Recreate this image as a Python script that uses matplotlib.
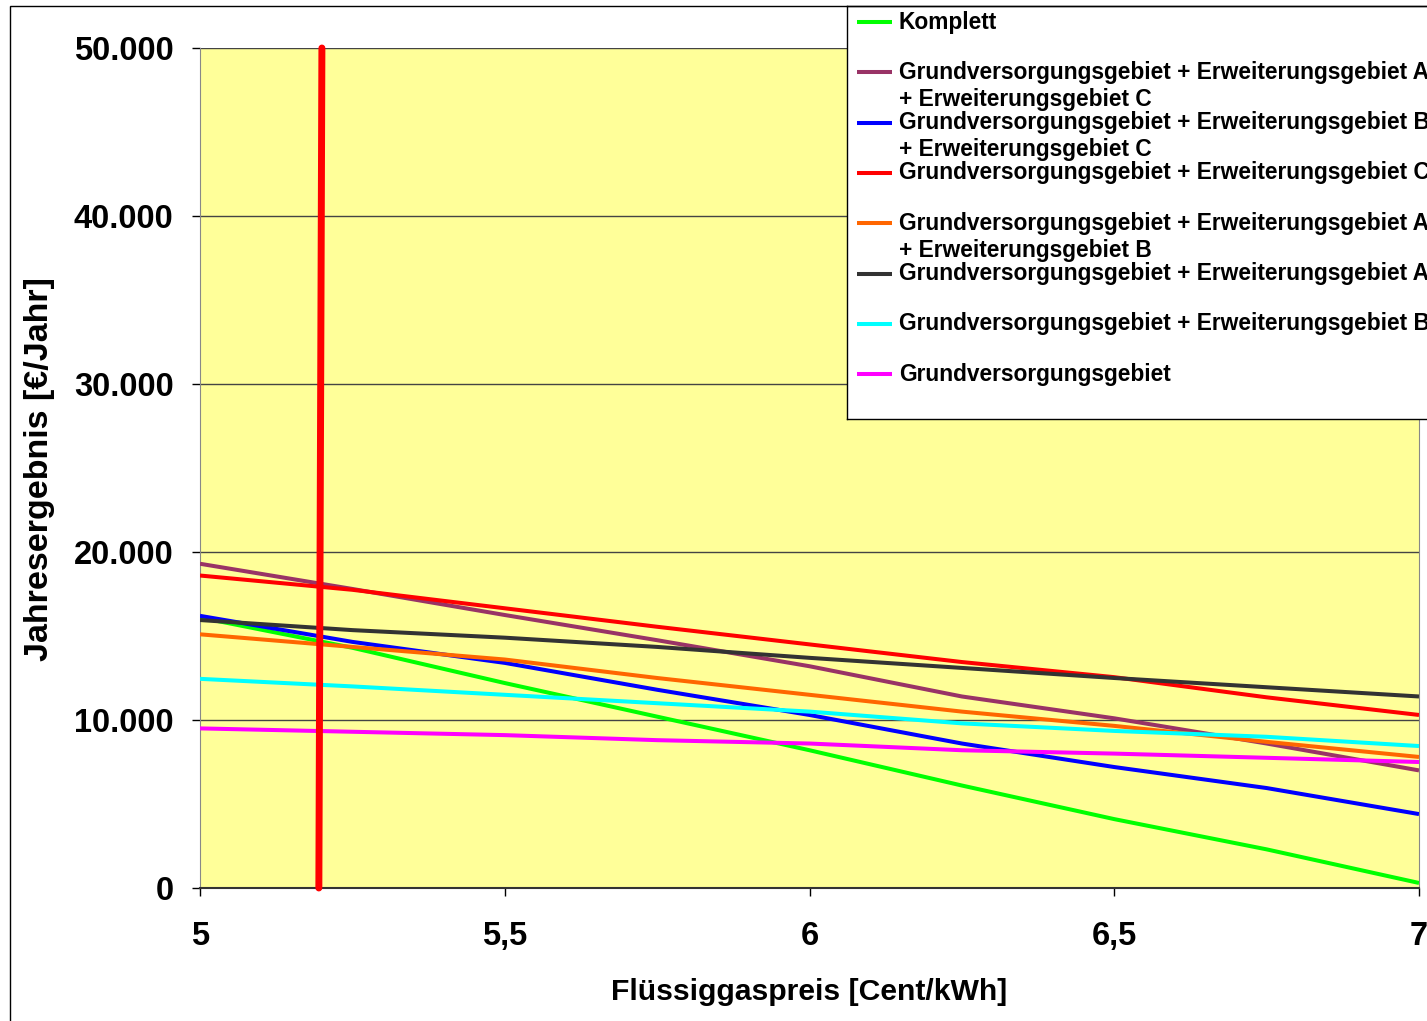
import matplotlib
matplotlib.use("Agg")
import matplotlib.pyplot as plt
from matplotlib.patches import Rectangle
from matplotlib.ticker import FuncFormatter, MultipleLocator

# gas price [Cent/kWh]
price = [5.0, 5.25, 5.5, 5.75, 6.0, 6.25, 6.5, 6.75, 7.0]

# annual result [EUR/year]
komplett = [16100, 14300, 12200, 10200, 8200, 6100, 4100, 2300, 300]
grund_a_c = [19300, 17800, 16250, 14750, 13200, 11400, 10100, 8600, 7000]
grund_b_c = [16200, 14650, 13400, 11800, 10300, 8600, 7200, 5950, 4400]
grund_c = [18600, 17750, 16650, 15550, 14500, 13450, 12550, 11350, 10300]
grund_a_b = [15100, 14350, 13600, 12500, 11500, 10500, 9650, 8700, 7800]
grund_a = [15950, 15350, 14900, 14350, 13700, 13100, 12500, 11950, 11400]
grund_b = [12450, 12000, 11500, 11000, 10500, 9800, 9350, 9000, 8450]
grund = [9500, 9300, 9100, 8800, 8600, 8200, 8000, 7750, 7500]

labels = [
    "Komplett",
    "Grundversorgungsgebiet + Erweiterungsgebiet A\n+ Erweiterungsgebiet C",
    "Grundversorgungsgebiet + Erweiterungsgebiet B\n+ Erweiterungsgebiet C",
    "Grundversorgungsgebiet + Erweiterungsgebiet C",
    "Grundversorgungsgebiet + Erweiterungsgebiet A\n+ Erweiterungsgebiet B",
    "Grundversorgungsgebiet + Erweiterungsgebiet A",
    "Grundversorgungsgebiet + Erweiterungsgebiet B",
    "Grundversorgungsgebiet",
]
series = [komplett, grund_a_c, grund_b_c, grund_c, grund_a_b, grund_a, grund_b, grund]
colors = ["#00FF00", "#993366", "#0000FF", "#FF0000", "#FF6600", "#333333", "#00FFFF", "#FF00FF"]

# current price marker
marker_x = [5.2, 5.195]
marker_y = [50000, 0]

W, H = 1427, 1021
plt.rcParams["font.family"] = ["Liberation Sans", "DejaVu Sans"]
plt.rcParams["font.weight"] = "bold"

fig = plt.figure(figsize=(W / 100, H / 100), dpi=100)

# outer chart frame
fig.patches.append(Rectangle((10 / W, -0.1), 1.2, 1 - 6 / H + 0.1, transform=fig.transFigure,
                             fill=False, edgecolor="black", linewidth=1.0))

ax = fig.add_axes([200 / W, (H - 888) / H, 1219 / W, 840 / H])
ax.set_facecolor("#FFFF99")

for values, color in zip(series, colors):
    ax.plot(price, values, color=color, linewidth=2.9, solid_capstyle="butt", zorder=3)

ax.plot(marker_x, marker_y, color="#FF0000", linewidth=5.0, solid_capstyle="round", zorder=5, clip_on=False)

ax.set_xlim(5, 7)
ax.set_ylim(0, 50000)
ax.xaxis.set_major_locator(MultipleLocator(0.5))
ax.yaxis.set_major_locator(MultipleLocator(10000))
ax.xaxis.set_major_formatter(FuncFormatter(lambda v, p: ("%g" % v).replace(".", ",")))
ax.yaxis.set_major_formatter(FuncFormatter(lambda v, p: "{:,.0f}".format(v).replace(",", ".")))
ax.grid(axis="y", color="#444444", linewidth=1.0, zorder=1)
ax.set_axisbelow(True)

ax.tick_params(axis="x", direction="out", length=6, width=1, pad=18, labelsize=23.5)
ax.tick_params(axis="y", direction="out", length=6, width=1, pad=13, labelsize=23.5)
for label in ax.get_xticklabels() + ax.get_yticklabels():
    label.set_fontweight("bold")

for side in ["top", "right", "left"]:
    ax.spines[side].set_color("#888888")
ax.spines["top"].set_visible(False)
ax.spines["bottom"].set_color("#333333")
ax.spines["bottom"].set_linewidth(1.5)

fig.text(809 / W, 1 - 992 / H, "Flüssiggaspreis [Cent/kWh]", ha="center", va="center",
         fontsize=21.7, fontweight="bold")
fig.text(40 / W, 1 - 469 / H, "Jahresergebnis [€/Jahr]", ha="center", va="center",
         rotation=90, fontsize=24.5, fontweight="bold")

# legend box, cut off at the right edge like the original
leg = fig.add_axes([847 / W, (H - 419) / H, 700 / W, 413 / H])
leg.set_xlim(847, 1547)
leg.set_ylim(419, 6)
leg.set_facecolor("white")
leg.set_xticks([])
leg.set_yticks([])
for spine in leg.spines.values():
    spine.set_color("black")
    spine.set_linewidth(1.0)

for i, (label, color) in enumerate(zip(labels, colors)):
    y = 22 + i * 50.3
    leg.plot([857, 892], [y, y], color=color, linewidth=2.9, solid_capstyle="butt")
    for j, part in enumerate(label.split("\n")):
        leg.text(899, y + j * 27, part, ha="left", va="center", fontsize=16.4, fontweight="bold")

fig.savefig("out.png", dpi=100)
